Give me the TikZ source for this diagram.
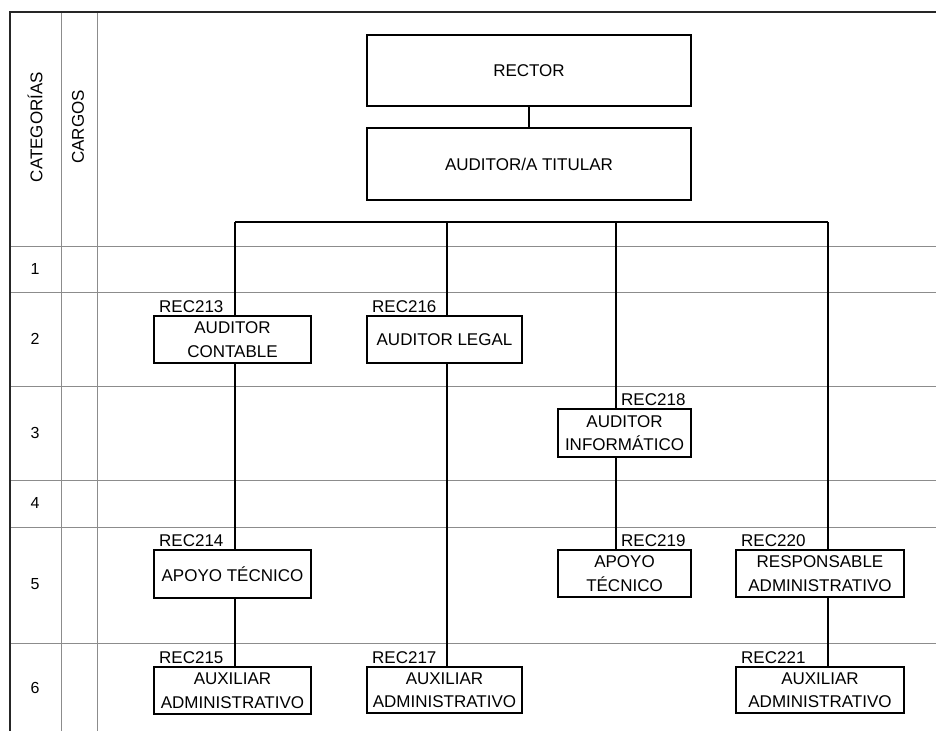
\documentclass[tikz,border=0pt]{standalone}
\usepackage{fontspec}
\setmainfont{Liberation Sans}
\begin{document}
\begin{tikzpicture}[x=1pt,y=-1pt,
  txt/.style={font=\fontsize{17}{23.5}\selectfont},
  box/.style={draw=black, line width=1.1pt, txt, align=center, inner sep=0pt},
  rec/.style={txt, anchor=base west, inner sep=0pt},
  conn/.style={draw=black, line width=1.3pt},
  grid/.style={draw=black!45, line width=1pt},
  frame/.style={draw=black!85, line width=1.2pt},
  num/.style={font=\fontsize{16}{19}\selectfont}]
\useasboundingbox[fill=white] (0,0) rectangle (936,731);
% grid
\foreach \y in {246,292,386,480,527,643} \draw[grid] (10,\y) -- (936,\y);
\draw[grid] (61,12) -- (61,731);
\draw[grid] (97,12) -- (97,731);
\draw[frame] (936,12) -- (10,12) -- (10,731);
% headers
\node[txt, rotate=90] (hcat) at (35,127) {CATEGORÍAS};
\node[txt, rotate=90] (hcar) at (78,127) {CARGOS};
\node[num] (n1) at (35,269) {1};
\node[num] (n2) at (35,339) {2};
\node[num] (n3) at (35,433) {3};
\node[num] (n4) at (35,503) {4};
\node[num] (n5) at (35,584) {5};
\node[num] (n6) at (35,688) {6};
% boxes
\node[box, minimum width=324, minimum height=71] (rector) at (529,70.5) {RECTOR};
\node[box, minimum width=324, minimum height=72] (tit) at (529,164) {AUDITOR/A TITULAR};
\node[box, minimum width=157, minimum height=47] (ac) at (232.5,339.5) {AUDITOR\\CONTABLE};
\node[box, minimum width=155, minimum height=47] (al) at (444.5,339.5) {AUDITOR LEGAL};
\node[box, minimum width=133, minimum height=48] (ai) at (624.5,433) {AUDITOR\\INFORMÁTICO};
\node[box, minimum width=157, minimum height=48] (at1) at (232.5,574) {APOYO TÉCNICO};
\node[box, minimum width=133, minimum height=47] (at2) at (624.5,573.5) {APOYO\\TÉCNICO};
\node[box, minimum width=168, minimum height=47] (ra) at (820,573.5) {RESPONSABLE\\ADMINISTRATIVO};
\node[box, minimum width=157, minimum height=47] (ax1) at (232.5,690.5) {AUXILIAR\\ADMINISTRATIVO};
\node[box, minimum width=155, minimum height=46] (ax2) at (444.5,690) {AUXILIAR\\ADMINISTRATIVO};
\node[box, minimum width=168, minimum height=46] (ax3) at (820,690) {AUXILIAR\\ADMINISTRATIVO};
% codes
\node[rec] (r213) at (159,312) {REC213};
\node[rec] (r216) at (372,312) {REC216};
\node[rec] (r218) at (621,405) {REC218};
\node[rec] (r214) at (159,546) {REC214};
\node[rec] (r219) at (621,546) {REC219};
\node[rec] (r220) at (741,546) {REC220};
\node[rec] (r215) at (159,663) {REC215};
\node[rec] (r217) at (372,663) {REC217};
\node[rec] (r221) at (741,663) {REC221};
% connectors
\coordinate (b1) at (235,222);
\coordinate (b2) at (447,222);
\coordinate (b3) at (616,222);
\coordinate (b4) at (828,222);
\draw[conn] (rector.south) -- (tit.north);
\draw[conn] (b1) -- (b4);
\draw[conn] (b1) -- (b1 |- ac.north);
\draw[conn] (b1 |- ac.south) -- (b1 |- at1.north);
\draw[conn] (b1 |- at1.south) -- (b1 |- ax1.north);
\draw[conn] (b2) -- (b2 |- al.north);
\draw[conn] (b2 |- al.south) -- (b2 |- ax2.north);
\draw[conn] (b3) -- (b3 |- ai.north);
\draw[conn] (b3 |- ai.south) -- (b3 |- at2.north);
\draw[conn] (b4) -- (b4 |- ra.north);
\draw[conn] (b4 |- ra.south) -- (b4 |- ax3.north);
\end{tikzpicture}
\end{document}
